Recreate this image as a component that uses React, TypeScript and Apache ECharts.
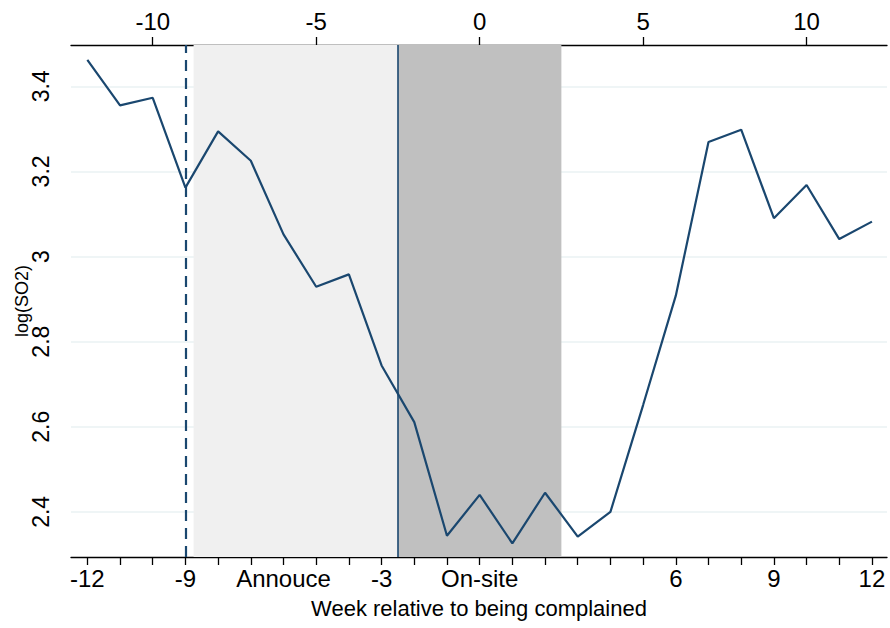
import React, { useEffect, useRef } from "react";
import * as echarts from "echarts";

const weeks = [-12, -11, -10, -9, -8, -7, -6, -5, -4, -3, -2, -1, 0, 1, 2, 3, 4, 5, 6, 7, 8, 9, 10, 11, 12];
const logSO2 = [3.462, 3.355, 3.373, 3.162, 3.294, 3.225, 3.052, 2.929, 2.958, 2.744, 2.611, 2.344, 2.44, 2.326, 2.445, 2.342, 2.4, 2.651, 2.908, 3.269, 3.298, 3.09, 3.168, 3.041, 3.082];

const bottomTickValues = [-12, -11, -10, -9, -8, -7, -6, -5, -4, -3, -2, -1, 0, 1, 2, 3, 4, 5, 6, 7, 8, 9, 10, 11, 12];
const bottomLabelValues = [-12, -9, -6, -3, 0, 6, 9, 12];
const bottomLabelNames: Record<string, string> = { "-6": "Annouce", "0": "On-site" };
const topTickValues = [-10, -5, 0, 5, 10];
const yTickValues = [2.4, 2.6, 2.8, 3.0, 3.2, 3.4];

const announceStart = -8.75;
const onsiteStart = -2.5;
const onsiteEnd = 2.5;
const dashedWeek = -9;

const NAVY = "#1a476f";
const FONT = "Liberation Sans, Arial, Helvetica, sans-serif";

export default function App() {
  const ref = useRef<HTMLDivElement>(null);
  useEffect(() => {
    if (!ref.current) return;
    const chart = echarts.init(ref.current, null, { renderer: "svg" });
    const axisLine = { show: true, lineStyle: { color: "#000", width: 1.3 } };
    chart.setOption({
      animation: false,
      backgroundColor: "#fff",
      textStyle: { fontFamily: FONT },
      grid: { left: 71, right: 3, top: 45, bottom: 71, containLabel: false, outerBoundsMode: "none" },
      xAxis: [
        {
          type: "value",
          position: "bottom",
          min: -12.5,
          max: 12.46,
          axisLine,
          axisTick: { show: true, customValues: bottomTickValues, length: 8, lineStyle: { color: "#000", width: 1.3 } },
          axisLabel: {
            customValues: bottomLabelValues,
            formatter: (v: number) => bottomLabelNames[String(v)] ?? String(v),
            fontSize: 24,
            color: "#000",
            margin: 9,
            fontFamily: FONT,
          },
          splitLine: { show: false },
          name: "Week relative to being complained",
          nameLocation: "middle",
          nameGap: 40,
          nameMoveOverlap: false,
          nameTextStyle: { fontSize: 22, color: "#000", fontFamily: FONT },
        },
        {
          type: "value",
          position: "top",
          min: -12.5,
          max: 12.46,
          axisLine,
          axisTick: { show: true, customValues: topTickValues, length: 8, lineStyle: { color: "#000", width: 1.3 } },
          axisLabel: {
            customValues: topTickValues,
            fontSize: 24,
            color: "#000",
            margin: 12,
            fontFamily: FONT,
          },
          splitLine: { show: false },
        },
      ],
      yAxis: {
        type: "value",
        min: 2.294,
        max: 3.497,
        axisLine,
        axisTick: { show: true, customValues: yTickValues, length: 8, lineStyle: { color: "#000", width: 1.3 } },
        axisLabel: {
          customValues: yTickValues,
          formatter: (v: number) => String(+v.toFixed(1)),
          rotate: 90,
          fontSize: 23,
          color: "#000",
          margin: 19,
          fontFamily: FONT,
        },
        splitLine: { show: true, lineStyle: { color: "#eaf2f3", width: 1.5 } },
        name: "log(SO2)",
        nameLocation: "middle",
        nameGap: 40,
        nameMoveOverlap: false,
        nameTextStyle: { fontSize: 18, color: "#000", fontFamily: FONT },
      },
      series: [
        {
          type: "line",
          data: [],
          z: 1,
          markArea: {
            silent: true,
            data: [
              [{ xAxis: announceStart, itemStyle: { color: "#f0f0f0" } }, { xAxis: onsiteStart }],
              [{ xAxis: onsiteStart, itemStyle: { color: "#c0c0c0" } }, { xAxis: onsiteEnd }],
            ],
          },
          markLine: {
            silent: true,
            symbol: ["none", "none"],
            label: { show: false },
            data: [
              { xAxis: dashedWeek, lineStyle: { color: NAVY, width: 2.2, type: [11, 7] } },
              { xAxis: onsiteStart, lineStyle: { color: NAVY, width: 1.6, type: "solid" } },
            ],
          },
        },
        {
          type: "line",
          z: 3,
          data: weeks.map((w, i) => [w, logSO2[i]]),
          showSymbol: false,
          symbol: "none",
          lineStyle: { color: NAVY, width: 2.2 },
          itemStyle: { color: NAVY },
        },
      ],
    });
    return () => chart.dispose();
  }, []);
  return <div ref={ref} style={{ position: "fixed", left: 0, top: 0, width: 890, height: 628 }} />;
}
